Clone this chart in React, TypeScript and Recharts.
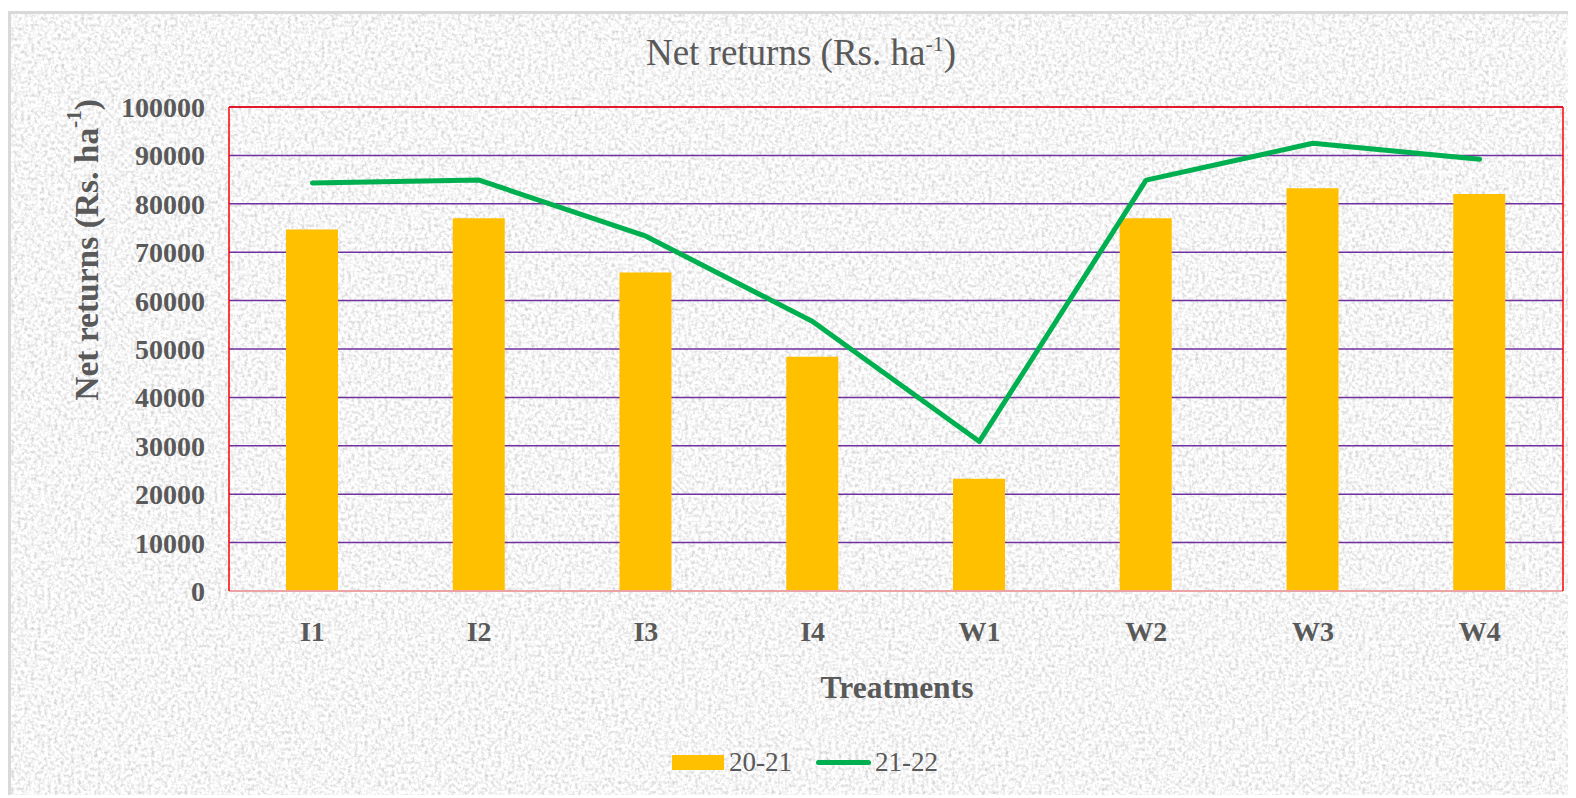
import React from 'react';
import {
  ComposedChart,
  Bar,
  Line,
  XAxis,
  YAxis,
  CartesianGrid,
  ReferenceLine,
  Legend,
  Label,
} from 'recharts';

const categories = ['I1', 'I2', 'I3', 'I4', 'W1', 'W2', 'W3', 'W4'];
const returns2021 = [74700, 77000, 65800, 48400, 23200, 77000, 83200, 82000];
const returns2122 = [84300, 84900, 73300, 55700, 30900, 84900, 92500, 89200];
const yTicks = [0, 10000, 20000, 30000, 40000, 50000, 60000, 70000, 80000, 90000, 100000];

const data = categories.map((name, i) => ({
  name,
  s2021: returns2021[i],
  s2122: returns2122[i],
}));

const FONT = '"Liberation Serif", "Times New Roman", serif';
const GREY = '#595959';

const YTitle = (props: any) => {
  const vb = props.viewBox || { x: 121, y: 96 };
  const cx = vb.x - 43;
  const cy = vb.y + 143;
  return (
    <text
      x={cx}
      y={cy}
      transform={`rotate(-90 ${cx} ${cy})`}
      textAnchor="middle"
      dominantBaseline="central"
      fontFamily={FONT}
      fontWeight="bold"
      fontSize={33.5}
      fill={GREY}
    >
      Net returns (Rs. ha
      <tspan dy={-12} fontSize={21}>-1</tspan>
      <tspan dy={12}>)</tspan>
    </text>
  );
};

const XTitle = (props: any) => {
  const vb = props.viewBox || { x: 221, y: 580, width: 1334 };
  return (
    <text
      x={vb.x + vb.width / 2 + 1}
      y={vb.y + 107}
      textAnchor="middle"
      fontFamily={FONT}
      fontWeight="bold"
      fontSize={31.5}
      fill={GREY}
    >
      Treatments
    </text>
  );
};

const LegendBox = (props: any) => {
  const items = props.payload || [];
  return (
    <div
      style={{
        height: 40,
        display: 'flex',
        alignItems: 'center',
        justifyContent: 'center',
        fontFamily: FONT,
        fontSize: 27,
        color: GREY,
      }}
    >
      {items.map((it: any, i: number) => (
        <div key={i} style={{ display: 'flex', alignItems: 'center', marginLeft: i ? 24 : 0 }}>
          {it.type === 'line' ? (
            <span style={{ width: 55, height: 5, borderRadius: 3, background: it.color, marginRight: 4 }} />
          ) : (
            <span style={{ width: 52, height: 15, background: it.color, marginRight: 5 }} />
          )}
          <span>{it.value}</span>
        </div>
      ))}
    </div>
  );
};

export default function App() {
  return (
    <div style={{ position: 'relative', top: 3, width: 1568, height: 787, overflow: 'hidden' }}>
      <svg width={1568} height={787} style={{ position: 'absolute', left: 0, top: 0 }}>
        <filter id="grain" x="0" y="0" width="100%" height="100%">
          <feTurbulence type="fractalNoise" baseFrequency="0.3" numOctaves={3} seed={3} stitchTiles="stitch" />
          <feColorMatrix
            type="matrix"
            values="0.8 0 0 0 0.52  0.8 0 0 0 0.52  0.8 0 0 0 0.52  0 0 0 0 1"
          />
        </filter>
        <rect x={0} y={0} width={1568} height={787} filter="url(#grain)" />
        <line x1={1.5} y1={0} x2={1.5} y2={787} stroke="#d9d9d9" strokeWidth={3} />
        <line x1={0} y1={1.5} x2={1568} y2={1.5} stroke="#d9d9d9" strokeWidth={3} />
        <text x={793} y={54} textAnchor="middle" fontFamily={FONT} fontSize={37} fill={GREY}>
          Net returns (Rs. ha
          <tspan dy={-14} fontSize={22}>-1</tspan>
          <tspan dy={14}>)</tspan>
        </text>
      </svg>
      <div style={{ position: 'absolute', left: 0, top: 0 }}>
        <ComposedChart
          width={1568}
          height={787}
          data={data}
          margin={{ top: 96, right: 12, bottom: 16, left: 121 }}
        >
          <CartesianGrid vertical={false} stroke="#7030A0" strokeWidth={1.5} />
          <XAxis
            dataKey="name"
            height={151}
            tickLine={false}
            tickSize={0}
            tickMargin={30}
            axisLine={{ stroke: '#eba3a3', strokeWidth: 2 }}
            tick={{ fontFamily: FONT, fontWeight: 'bold', fontSize: 28, fill: GREY }}
          >
            <Label content={<XTitle />} />
          </XAxis>
          <YAxis
            width={100}
            domain={[0, 100000]}
            ticks={yTicks}
            interval={0}
            tickLine={false}
            tickSize={0}
            tickMargin={24}
            axisLine={{ stroke: '#ff0000', strokeWidth: 1.5 }}
            tick={{ fontFamily: FONT, fontWeight: 'bold', fontSize: 28, fill: GREY }}
          >
            <Label content={<YTitle />} />
          </YAxis>
          <YAxis
            yAxisId="edge"
            orientation="right"
            width={1}
            domain={[0, 100000]}
            tick={false}
            tickLine={false}
            axisLine={{ stroke: '#ff0000', strokeWidth: 1.5 }}
          />
          <ReferenceLine y={100000} stroke="#ff0000" strokeWidth={1.5} />
          <Bar dataKey="s2021" name="20-21" fill="#FFC000" barSize={52} isAnimationActive={false} />
          <Line
            type="linear"
            dataKey="s2122"
            name="21-22"
            stroke="#00B050"
            strokeWidth={5}
            strokeLinecap="round"
            strokeLinejoin="round"
            dot={false}
            activeDot={false}
            isAnimationActive={false}
          />
          <Legend
            verticalAlign="bottom"
            content={<LegendBox />}
            wrapperStyle={{ left: 13, width: 1568 }}
          />
        </ComposedChart>
      </div>
    </div>
  );
}
